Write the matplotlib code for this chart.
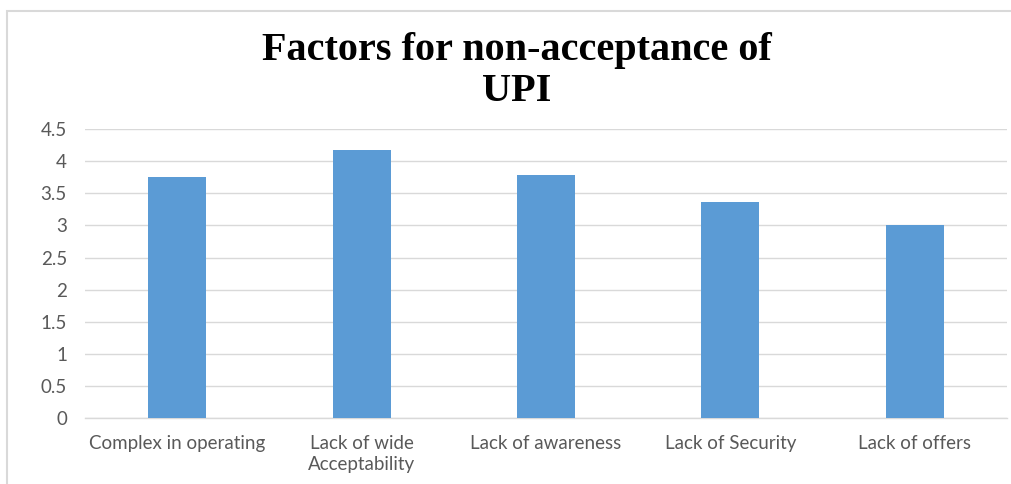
import matplotlib.pyplot as plt
from matplotlib.patches import Rectangle

categories = ["Complex in operating", "Lack of wide\nAcceptability", "Lack of awareness",
              "Lack of Security", "Lack of offers"]
values = [3.75, 4.18, 3.78, 3.37, 3.0]
yticks = [0, 0.5, 1, 1.5, 2, 2.5, 3, 3.5, 4, 4.5]
ytick_labels = ["0", "0.5", "1", "1.5", "2", "2.5", "3", "3.5", "4", "4.5"]

W, H = 1011, 484
fig = plt.figure(figsize=(W / 100, H / 100), dpi=100)

# chart frame
fig.patches.append(Rectangle((7 / W, -0.02), 1.02, (H - 11) / H + 0.02,
                             transform=fig.transFigure, fill=False,
                             edgecolor="#d9d9d9", linewidth=1.5))

ax = fig.add_axes([85 / W, (H - 418.3) / H, (1007 - 85) / W, (418.3 - 129) / H])
x = range(len(categories))
ax.bar(x, values, width=0.315, color="#5b9bd5", zorder=3)

ax.set_xlim(-0.5, len(categories) - 0.5)
ax.set_ylim(0, 4.5)
ax.set_yticks(yticks)
ax.set_yticklabels(ytick_labels)
ax.set_xticks(list(x))
ax.set_xticklabels(categories)

ax.grid(axis="y", color="#d9d9d9", linewidth=1.0, zorder=0)
for s in ["top", "right", "left"]:
    ax.spines[s].set_visible(False)
ax.spines["bottom"].set_color("#d9d9d9")
ax.spines["bottom"].set_linewidth(1.0)

ax.tick_params(axis="y", length=0, pad=13, labelsize=13.5, labelcolor="#595959")
ax.tick_params(axis="x", length=0, pad=12, labelsize=13.5, labelcolor="#595959")
for lab in ax.get_xticklabels() + ax.get_yticklabels():
    lab.set_family("Lato")
    lab.set_linespacing(1.3)

fig.text(517 / W, (H - 71) / H, "Factors for non-acceptance of\nUPI",
         ha="center", va="center", multialignment="center",
         fontsize=29, fontweight="bold", family="Liberation Serif",
         linespacing=1.12)

plt.savefig("out.png", dpi=100)
